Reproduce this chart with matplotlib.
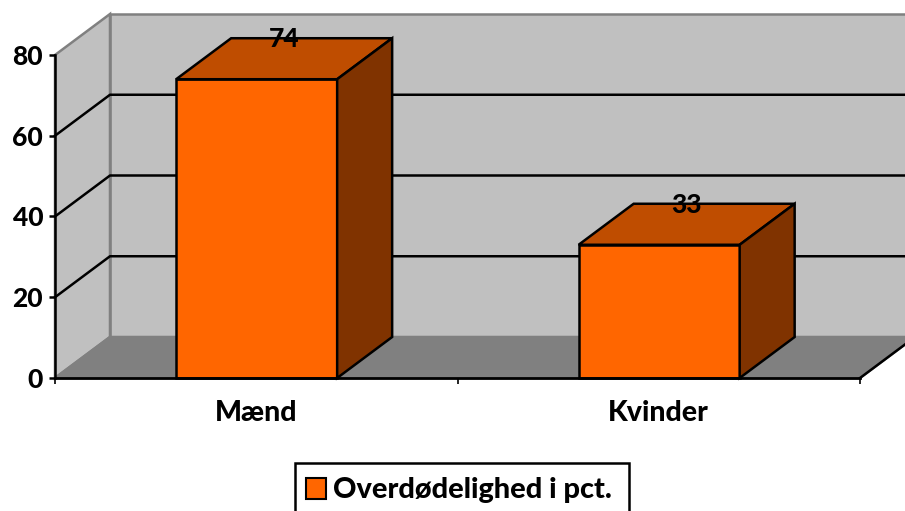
import matplotlib
matplotlib.use("Agg")
import matplotlib.pyplot as plt
from matplotlib.patches import Polygon, Rectangle

categories = ["Mænd", "Kvinder"]
values = [74, 33]
y_ticks = [0, 20, 40, 60, 80]
series_name = "Overdødelighed i pct."

W, H = 905, 511
plt.rcParams['font.family'] = ['Lato', 'DejaVu Sans']

fig = plt.figure(figsize=(W / 100, H / 100), dpi=100)
# plot box in pixels: x 55-860, y 55-378
ax = fig.add_axes([55 / W, 1 - 378 / H, 805 / W, 323 / H])
ax.set_xlim(0, 2)
ax.set_ylim(0, 80)

# depth of the fake 3d box, in data units
dx = 55 / 402.5
dy = 41 / (323 / 80)
bar_w = 0.4
lw = 1.8
wall = "#808080"


def poly(pts, fc, z=1, ec="black", lw=lw):
    ax.add_patch(Polygon(pts, closed=True, fc=fc, ec=ec, lw=lw, zorder=z, clip_on=False))


# back wall, side wall and floor
poly([(dx, dy), (2 + dx, dy), (2 + dx, 80 + dy), (dx, 80 + dy)], "#c0c0c0", 1, wall)
poly([(0, 0), (dx, dy), (dx, 80 + dy), (0, 80)], "#c0c0c0", 1, wall)
poly([(0, 0), (2, 0), (2 + dx, dy), (dx, dy)], wall, 1, wall)

# gridlines along side wall and back wall
for t in y_ticks[1:-1]:
    ax.plot([0, dx, 2 + dx], [t, t + dy, t + dy], color="black", lw=lw, zorder=2, clip_on=False)

for i, v in enumerate(values):
    x0 = i + 0.5 - bar_w / 2 + 0.001
    x1 = x0 + bar_w
    poly([(x0, 0), (x1, 0), (x1, v), (x0, v)], "#ff6600", 3)
    poly([(x0, v), (x1, v), (x1 + dx, v + dy), (x0 + dx, v + dy)], "#bf4d00", 3)
    poly([(x1, 0), (x1 + dx, dy), (x1 + dx, v + dy), (x1, v)], "#803300", 3)
    ax.text(x0 + bar_w / 2 + dx / 2, v + dy - 0.3, str(v), ha="center", va="center",
            fontsize=19, fontweight="black", zorder=5)

ax.plot([0, 2], [0, 0], color="black", lw=2.0, zorder=4, clip_on=False)
ax.plot([2, 2 + dx], [0, dy], color="black", lw=lw, zorder=4, clip_on=False)

ax.set_yticks(y_ticks)
ax.set_yticklabels(y_ticks, fontsize=19, fontweight="black")
ax.set_xticks([0, 1, 2])
ax.set_xticklabels([])
ax.set_xticks([0.5, 1.5], minor=True)
ax.set_xticklabels(categories, minor=True, fontsize=20.5, fontweight="black")
ax.tick_params(axis="x", which="major", length=4, width=1.2, direction="out")
ax.tick_params(axis="x", which="minor", length=0, pad=16)
ax.tick_params(axis="y", length=4.5, width=1.8, pad=4)
for s in ax.spines.values():
    s.set_visible(False)
ax.spines["left"].set_visible(True)
ax.spines["left"].set_linewidth(1.8)
ax.patch.set_visible(False)

# legend box by hand, it runs off the bottom of the picture like the original
fig.add_artist(Rectangle((295 / W, -10 / H), 334 / W, (H - 463 + 10) / H, transform=fig.transFigure,
                         fc="white", ec="black", lw=1.8))
fig.add_artist(Rectangle((305.5 / W, 1 - 499 / H), 20.5 / W, 21.5 / H, transform=fig.transFigure,
                         fc="#ff6600", ec="black", lw=1.5))
fig.text(333 / W, 1 - 490 / H, series_name, ha="left", va="center", fontsize=20.8, fontweight="black")

fig.savefig("out.png", dpi=100)
